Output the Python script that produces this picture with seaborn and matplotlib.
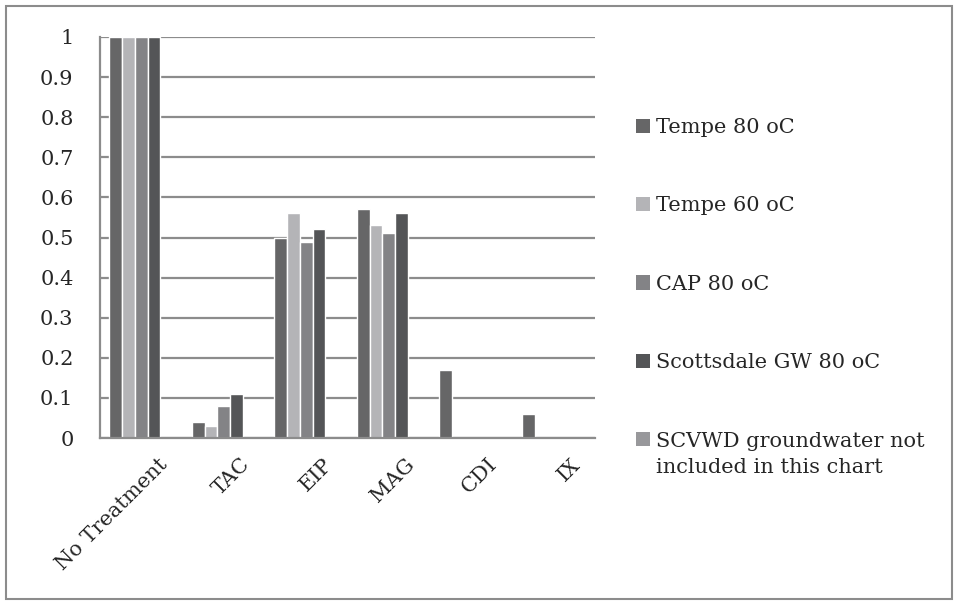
import numpy as np
import pandas as pd
import matplotlib
matplotlib.use("Agg")
import matplotlib.pyplot as plt
import seaborn as sns
from matplotlib.patches import Patch, Rectangle

categories = ["No Treatment", "TAC", "EIP", "MAG", "CDI", "IX"]
series = ["Tempe 80 oC", "Tempe 60 oC", "CAP 80 oC", "Scottsdale GW 80 oC",
          "SCVWD groundwater not"]
series_extra_line = "included in this chart"
tempe80 = [1.0, 0.04, 0.50, 0.57, 0.17, 0.06]
tempe60 = [1.0, 0.03, 0.56, 0.53, 0.0, 0.0]
cap80 = [1.0, 0.08, 0.49, 0.51, 0.0, 0.0]
scotts80 = [1.0, 0.11, 0.52, 0.56, 0.0, 0.0]
scvwd = [np.nan] * 6
colors = ["#666667", "#b4b4b7", "#838386", "#545557", "#98989b"]
yticks = [0, 0.1, 0.2, 0.3, 0.4, 0.5, 0.6, 0.7, 0.8, 0.9, 1]
ytick_labels = ["0", "0.1", "0.2", "0.3", "0.4", "0.5", "0.6", "0.7", "0.8", "0.9", "1"]

rows = []
for s, vals in zip(series, [tempe80, tempe60, cap80, scotts80, scvwd]):
    for c, v in zip(categories, vals):
        rows.append({"cat": c, "series": s, "val": v})
df = pd.DataFrame(rows)

sns.set_style("white")
plt.rcParams["font.family"] = ["DejaVu Serif"]
FS = 15

fig = plt.figure(figsize=(9.55, 6.02), dpi=100)
ax = fig.add_axes([100 / 955, 1 - 438 / 602, 495 / 955, 401 / 602])

grid_c = "#8c8c8c"
for t in yticks:
    ax.axhline(t, color=grid_c, lw=1.6, zorder=0)

sns.barplot(data=df.dropna(), x="cat", y="val", hue="series", order=categories,
            hue_order=series, palette=dict(zip(series, colors)), width=0.77,
            saturation=1, ax=ax, legend=False, zorder=2)

ax.set_ylim(0, 1)
ax.set_xlim(-0.5, len(categories) - 0.5)
ax.set_yticks(yticks)
ax.set_yticklabels(ytick_labels, fontsize=FS)
ax.set_xlabel("")
ax.set_ylabel("")
ax.set_xticks(np.arange(len(categories)) + 0.2)
ax.set_xticklabels(categories, fontsize=FS, rotation=45, ha="right",
                   rotation_mode="anchor")
ax.tick_params(axis="x", which="major", length=0, pad=12)
ax.set_xticks(np.arange(-0.5, len(categories), 1.0), minor=True)
ax.tick_params(axis="x", which="minor", length=6, width=1.6, color=grid_c, direction="out")
ax.tick_params(axis="y", length=6, width=1.6, color=grid_c, direction="out", pad=13)
for side in ["top", "right"]:
    ax.spines[side].set_visible(False)
for side in ["left", "bottom"]:
    ax.spines[side].set_color(grid_c)
    ax.spines[side].set_linewidth(1.6)

handles = [Patch(facecolor=c, edgecolor="none") for c in colors]
leg = fig.legend(handles, series, loc="upper left", bbox_to_anchor=(636 / 955, 1 - 118 / 602),
                 frameon=False, fontsize=FS, labelspacing=2.85, handlelength=0.68,
                 handleheight=0.68, handletextpad=0.3, borderaxespad=0, borderpad=0)

fig.canvas.draw()
last = leg.get_texts()[-1]
bb = last.get_window_extent().transformed(fig.transFigure.inverted())
fig.text(bb.x0, bb.y0 - 0.012, series_extra_line, fontsize=FS, ha="left", va="top")

fig.patches.append(Rectangle((6 / 955, 3 / 602), 946 / 955, 593 / 602, transform=fig.transFigure,
                             fill=False, edgecolor="#8c8c8c", lw=1.5))

fig.savefig("out.png", dpi=100)
